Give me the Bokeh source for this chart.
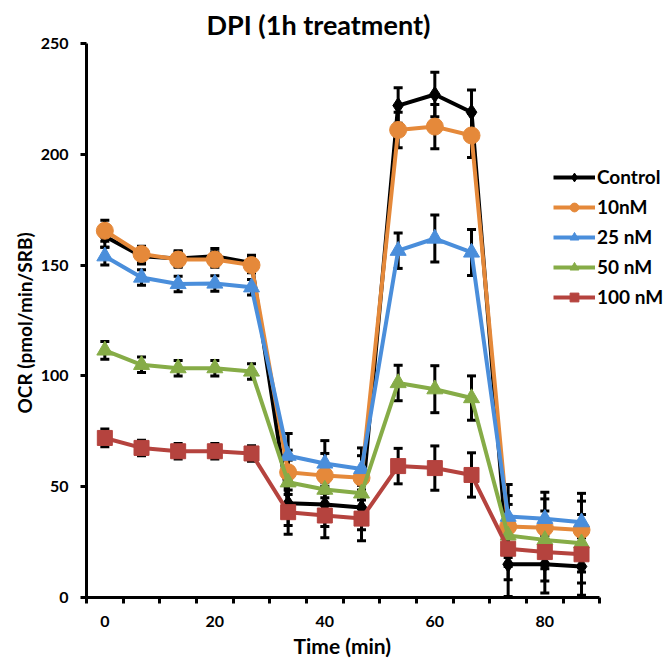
from bokeh.plotting import figure
from bokeh.models import (ColumnDataSource, Whisker, TeeHead, Legend, LegendItem,
                          FixedTicker, Title)
from bokeh.embed import file_html
from bokeh.resources import INLINE

time_min = [0, 6.67, 13.33, 20, 26.67, 33.33, 40, 46.67, 53.33, 60, 66.67, 73.33, 80, 86.67]

series_names = ["Control", "10nM", "25 nM", "50 nM", "100 nM"]
control = [163, 154, 153, 154, 151, 42.5, 42, 40.6, 222, 227, 219, 15, 15, 14]
nm10 = [165.5, 155, 152.5, 152.5, 150, 56.5, 55, 54, 211, 212.5, 208.5, 32, 31.5, 30.5]
nm25 = [154, 144.4, 141.5, 141.7, 140, 64, 60.5, 58, 156.5, 162, 155.7, 36.5, 35.5, 34]
nm50 = [111.5, 105, 103.5, 103.5, 102, 52, 48.7, 47, 96.8, 94, 90, 28, 26, 24.5]
nm100 = [72, 67.5, 66, 66, 65, 38.5, 37, 35.6, 59.3, 58.4, 55.3, 22, 20.5, 19.5]

err_control = [5, 3.5, 3.5, 3.5, 3.5, 10, 10, 10, 8, 10, 10, 14.5, 13, 13]
err_10 = [4.7, 3.5, 3.5, 3.5, 3.5, 10, 10, 10, 8, 10, 10, 14, 13, 13]
err_25 = [4, 3.5, 3.5, 3.5, 3.5, 10, 10.3, 9.5, 8, 10.6, 10.4, 14.5, 12, 13]
err_50 = [4, 3.5, 3.5, 3.5, 3.5, 10, 10, 10, 8, 10.6, 10, 14, 13, 13]
err_100 = [4, 3.5, 3.5, 3.5, 3.5, 10, 10, 10, 8, 10, 10, 14, 13, 13]

x_ticks = [0, 20, 40, 60, 80]
x_minor_ticks = [-3.33, 3.33, 10, 16.67, 23.33, 30, 36.67, 43.33, 50, 56.67, 63.33, 70, 76.67, 83.33, 90]
y_ticks = [0, 50, 100, 150, 200, 250]

values = [control, nm10, nm25, nm50, nm100]
errors = [err_control, err_10, err_25, err_50, err_100]
colors = ["#000000", "#E5893A", "#4A8EDB", "#86AC47", "#B5433E"]
markers = ["diamond", "circle", "triangle", "triangle", "square"]
msizes = [16, 17, 16, 16, 15]

FONT = "Lato"

x_start = -3.333
px_per_x = 5.5
left_border = 86
fig_w = 667
frame_w = fig_w - left_border
p = figure(width=fig_w, height=658, output_backend="svg", toolbar_location=None,
           x_range=(x_start, x_start + frame_w / px_per_x), y_range=(0, 250),
           min_border_left=left_border, min_border_right=0, min_border_top=43,
           min_border_bottom=60)
p.outline_line_color = None
p.grid.visible = False
p.background_fill_color = "white"
p.border_fill_color = "white"

p.title.text = "DPI (1h treatment)"
p.title.align = "left"
p.title.offset = 120
p.title.text_font = FONT
p.title.text_font_style = "bold"
p.title.text_font_size = "27px"
p.title.text_color = "black"
p.title.standoff = 5

# axes
xa = p.xaxis[0]
xa.ticker = FixedTicker(ticks=x_ticks, minor_ticks=x_minor_ticks)
xa.bounds = (x_start, 90)
xa.axis_line_width = 3
xa.axis_line_color = "black"
xa.major_tick_out = 0
xa.major_tick_in = 0
xa.minor_tick_out = 6
xa.minor_tick_in = 0
xa.minor_tick_line_width = 3
xa.minor_tick_line_color = "black"
xa.major_label_standoff = 12
xa.major_label_text_font = FONT
xa.major_label_text_font_style = "bold"
xa.major_label_text_font_size = "16px"
xa.major_label_text_color = "black"

ya = p.yaxis[0]
ya.ticker = FixedTicker(ticks=y_ticks)
ya.axis_line_width = 3
ya.axis_line_color = "black"
ya.major_tick_out = 6
ya.major_tick_in = 0
ya.major_tick_line_width = 3
ya.major_tick_line_color = "black"
ya.minor_tick_out = 0
ya.minor_tick_in = 0
ya.major_label_standoff = 12
ya.major_label_text_font = FONT
ya.major_label_text_font_style = "bold"
ya.major_label_text_font_size = "16px"
ya.major_label_text_color = "black"

items = []
for name, vals, errs, col, mk, ms in zip(series_names, values, errors, colors, markers, msizes):
    src = ColumnDataSource(dict(x=time_min, y=vals,
                                upper=[v + e for v, e in zip(vals, errs)],
                                lower=[v - e for v, e in zip(vals, errs)]))
    w = Whisker(base="x", upper="upper", lower="lower", source=src,
                line_color="black", line_width=3,
                upper_head=TeeHead(size=9, line_width=3, line_color="black"),
                lower_head=TeeHead(size=9, line_width=3, line_color="black"))
    p.add_layout(w)
    lr = p.line("x", "y", source=src, line_color=col, line_width=4)
    sr = p.scatter("x", "y", source=src, marker=mk, size=ms, fill_color=col, line_color=col)
    items.append(LegendItem(label=name, renderers=[lr, sr]))

legend = Legend(items=items, glyph_width=42, glyph_height=22,
                label_height=22, spacing=7, padding=0, margin=0, label_standoff=2,
                border_line_color=None, background_fill_alpha=0,
                label_text_font=FONT, label_text_font_style="bold",
                label_text_font_size="19px", label_text_color="black")
legend.location = (553 - left_border, 289)
p.add_layout(legend)

xlab = Title(text="Time (min)", align="left", offset=207, text_font=FONT,
             text_font_style="bold", text_font_size="21px", text_color="black", standoff=2)
p.add_layout(xlab, "below")
ylab = Title(text="OCR (pmol/min/SRB)", align="left", offset=184, text_font=FONT,
             text_font_style="bold", text_font_size="19px", text_color="black", standoff=4)
p.add_layout(ylab, "left")

open("out.html", "w").write(file_html(p, INLINE))
